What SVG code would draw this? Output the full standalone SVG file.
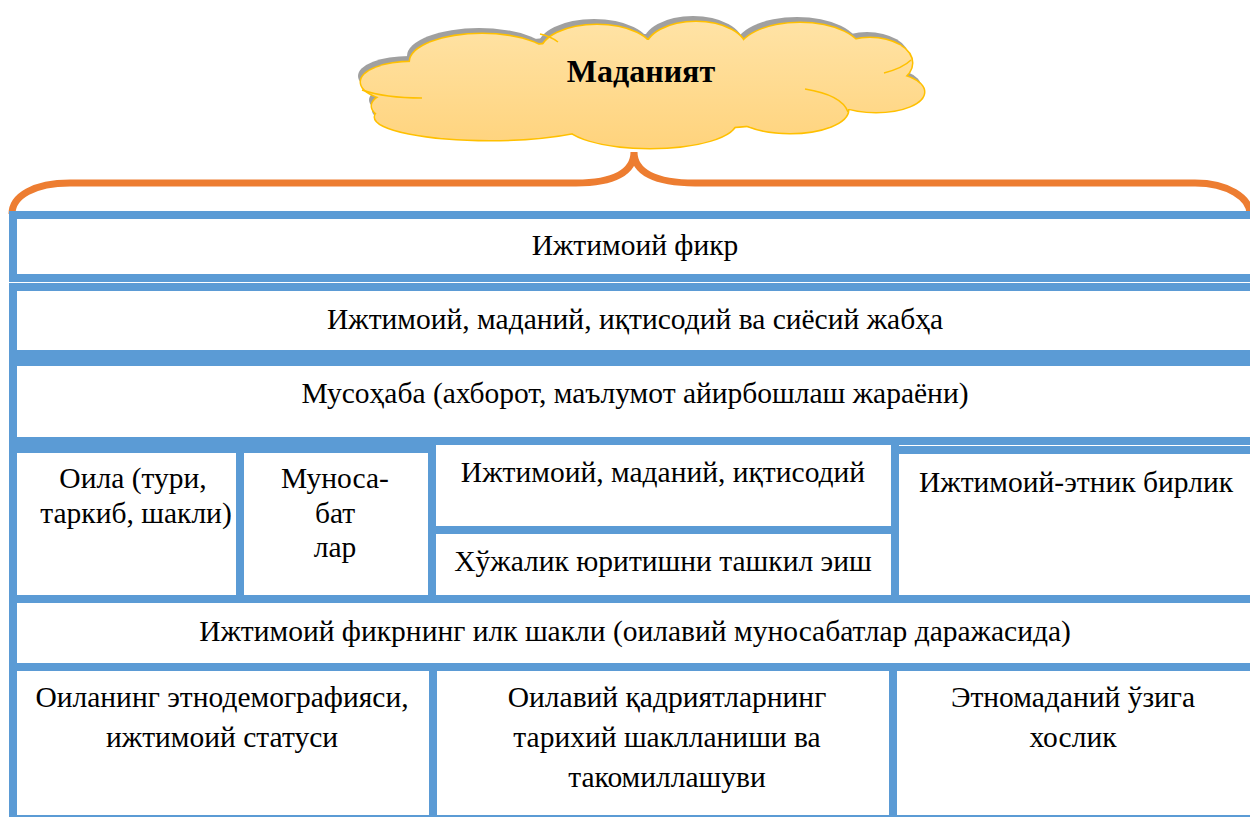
<svg xmlns="http://www.w3.org/2000/svg" width="1250" height="817" viewBox="0 0 1250 817">
<style>
.box{fill:#FFFFFF;stroke:#5B9BD5;stroke-width:8}
.t{font-family:"Liberation Serif","Times New Roman",serif;font-size:29.5px;fill:#000;text-anchor:middle}
.title{font-family:"Liberation Serif","Times New Roman",serif;font-size:32px;font-weight:bold;fill:#000;text-anchor:middle}
.brace{fill:none;stroke:#ED7D31;stroke-width:7;stroke-linejoin:miter}
.arc{fill:none;stroke:#FFC000;stroke-width:1.5}
</style>
<defs>
<linearGradient id="cg" gradientUnits="userSpaceOnUse" x1="0" y1="20" x2="0" y2="150">
<stop offset="0" stop-color="#FFE3A6"/>
<stop offset="1" stop-color="#FFD37C"/>
</linearGradient>
<g id="cloudShape">
<ellipse cx="412" cy="82" rx="51" ry="20"/>
<ellipse cx="482" cy="62" rx="72" ry="28"/>
<ellipse cx="597" cy="52" rx="56" ry="27"/>
<ellipse cx="696" cy="49" rx="50" ry="27"/>
<ellipse cx="800" cy="53" rx="62" ry="30"/>
<ellipse cx="870" cy="63" rx="42" ry="25"/>
<ellipse cx="876" cy="92" rx="48" ry="20"/>
<ellipse cx="790" cy="110" rx="58" ry="23"/>
<ellipse cx="650" cy="122" rx="86" ry="26"/>
<ellipse cx="490" cy="117" rx="115" ry="23"/>
<ellipse cx="422" cy="106" rx="50" ry="18"/>
<ellipse cx="645" cy="85" rx="240" ry="45"/>
</g>
</defs>
<rect x="0" y="0" width="1250" height="817" fill="#FFFFFF"/>

<g id="cloud">
<use href="#cloudShape" fill="#A0A0A0" transform="translate(-3,-6)"/>
<use href="#cloudShape" fill="none" stroke="#FFC000" stroke-width="3"/>
<use href="#cloudShape" fill="url(#cg)"/>
<path class="arc" d="M 362 90 Q 385 98 422 98"/>
<path class="arc" d="M 805 89 Q 842 95 848 112"/>
<path class="arc" d="M 884 73 Q 903 68 911 60"/>
<path class="arc" d="M 558 42 Q 550 36 540 34"/>
<text class="title" x="641" y="82">Маданият</text>
</g>

<g id="connectors">
<path class="brace" d="M 12 214 C 12 196 34 183 70 183 L 576 183 C 614 183 634 172 634 152 C 634 172 655 183 695 183 L 1195 183 C 1228 183 1250 198 1250 214"/>
</g>

<g id="n-fikr">
<rect class="box" x="13" y="215" width="1245" height="63"/>
<text class="t" x="635" y="255">Ижтимоий фикр</text>
</g>
<g id="n-jabha">
<rect class="box" x="13" y="287" width="1245" height="67"/>
<text class="t" x="635" y="329">Ижтимоий, маданий, иқтисодий ва сиёсий жабҳа</text>
</g>
<g id="n-musohaba">
<rect class="box" x="13" y="362" width="1245" height="79"/>
<text class="t" x="635" y="403">Мусоҳаба (ахборот, маълумот айирбошлаш жараёни)</text>
</g>
<g id="n-oila">
<rect class="box" x="13" y="449" width="227" height="150"/>
<text class="t" x="133" y="488">Оила (тури,</text>
<text class="t" x="136" y="523">таркиб, шакли)</text>
</g>
<g id="n-munosabat">
<rect class="box" x="240" y="449" width="192" height="150"/>
<text class="t" x="335" y="488">Муноса-</text>
<text class="t" x="335" y="523">бат</text>
<text class="t" x="335" y="557">лар</text>
</g>
<g id="n-iqtisodiy">
<rect class="box" x="432" y="441" width="463" height="89"/>
<text class="t" x="663" y="482">Ижтимоий, маданий, иқтисодий</text>
</g>
<g id="n-xojalik">
<rect class="box" x="432" y="530" width="463" height="69"/>
<text class="t" x="663" y="571">Хўжалик юритишни ташкил эиш</text>
</g>
<g id="n-birlik">
<rect class="box" x="895" y="450" width="363" height="149"/>
<text class="t" x="1076" y="492">Ижтимоий-этник бирлик</text>
</g>
<g id="n-ilk">
<rect class="box" x="13" y="599" width="1245" height="68"/>
<text class="t" x="635" y="641">Ижтимоий фикрнинг илк шакли (оилавий муносабатлар даражасида)</text>
</g>
<g id="n-demografiya">
<rect class="box" x="13" y="667" width="420" height="152"/>
<text class="t" x="222" y="707">Оиланинг этнодемографияси,</text>
<text class="t" x="222" y="747">ижтимоий статуси</text>
</g>
<g id="n-qadriyat">
<rect class="box" x="433" y="667" width="460" height="152"/>
<text class="t" x="667" y="707">Оилавий қадриятларнинг</text>
<text class="t" x="667" y="747">тарихий шаклланиши ва</text>
<text class="t" x="667" y="787">такомиллашуви</text>
</g>
<g id="n-ozigaxos">
<rect class="box" x="893" y="667" width="365" height="152"/>
<text class="t" x="1073" y="707">Этномаданий ўзига</text>
<text class="t" x="1073" y="747">хослик</text>
</g>
</svg>
